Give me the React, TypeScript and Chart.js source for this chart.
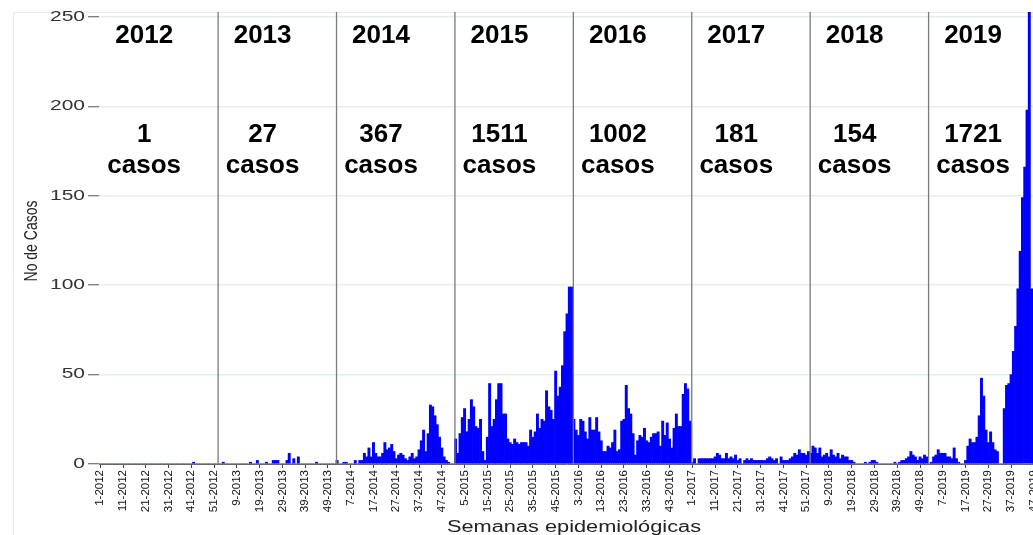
import React, { useEffect, useRef } from "react";
import { Chart, registerables } from "chart.js";

Chart.register(...registerables);

const years = [2012, 2013, 2014, 2015, 2016, 2017, 2018, 2019];
const yearTotals = [1, 27, 367, 1511, 1002, 181, 154, 1721];
const casesWord = "casos";
const xTitle = "Semanas epidemiológicas";
const yTitle = "No de Casos";
const yTickValues = [0, 50, 100, 150, 200, 250];
const yMax = 252.8;
const labelEvery = 10;

const cases2012 = [0,0,0,0,0,0,0,0,0,0, 0,0,0,0,0,0,0,0,0,0, 0,0,0,0,0,0,0,0,0,0, 0,0,0,0,0,0,0,0,0,0, 0,1,0,0,0,0,0,0,0,0, 0,0];
const cases2013 = [0,0,1,0,0,0,0,0,0,0, 0,0,0,0,1,0,0,2,0,0, 0,1,0,0,2,2,2,0,0,0, 2,6,0,3,0,4,0,0,0,0, 0,0,0,1,0,0,0,0,0,0, 0,0];
const cases2014 = [2,0,0,1,1,0,0,0,2,0, 2,2,6,4,9,4,12,6,4,4, 6,12,8,9,11,7,3,5,6,5, 3,2,4,6,3,4,8,13,19,7, 17,33,32,27,22,15,9,4,2,1, 0,0];
const cases2015 = [14,6,17,26,31,18,25,36,32,21, 20,25,7,2,15,45,21,25,36,45, 45,28,28,14,12,11,14,12,11,12, 12,12,10,19,15,18,28,20,25,24, 41,32,30,25,52,38,43,55,74,84, 99,99];
const cases2016 = [25,19,16,25,24,18,14,26,19,19, 26,18,13,7,7,10,9,12,19,7, 8,24,25,44,31,28,17,5,13,16, 15,20,13,12,15,17,17,18,10,24, 16,23,14,9,20,28,21,21,39,45, 42,24];
const cases2017 = [1,3,0,3,3,3,3,3,3,3, 4,6,5,3,3,6,3,4,3,5, 2,3,0,2,3,2,3,2,2,2, 2,2,2,3,4,3,2,3,0,4, 2,2,2,3,4,6,5,8,6,6, 5,7];
const cases2018 = [6,10,9,6,9,4,5,6,4,8, 5,4,6,3,5,4,4,2,2,1, 0,0,0,0,1,0,1,2,2,1, 0,0,0,0,0,0,0,1,0,1, 2,2,3,4,7,5,4,2,4,3, 5,4];
const cases2019 = [0,1,4,5,8,6,6,6,4,4, 3,9,3,1,0,0,2,10,14,12, 12,15,27,48,38,19,12,18,12,8, 7,0,0,31,44,45,50,63,77,98, 119,149,166,198,262,98,6];

const weeklyByYear = [cases2012, cases2013, cases2014, cases2015, cases2016, cases2017, cases2018, cases2019];

const categories: string[] = [];
const values: number[] = [];
weeklyByYear.forEach((arr, k) => {
  arr.forEach((v, w) => {
    categories.push(`${w + 1}-${years[k]}`);
    values.push(v);
  });
});

const FONT = '"Liberation Sans", Arial, sans-serif';

const decor = {
  id: "decor",
  beforeDraw(chart: any) {
    const ctx = chart.ctx;
    ctx.save();
    ctx.fillStyle = "#ffffff";
    ctx.fillRect(0, 0, chart.width, chart.height);
    ctx.strokeStyle = "#e4ebee";
    ctx.lineWidth = 1;
    ctx.beginPath();
    ctx.moveTo(13.5, chart.height);
    ctx.lineTo(13.5, 12.5);
    ctx.lineTo(chart.width, 12.5);
    ctx.stroke();
    ctx.restore();
  },
  afterDatasetsDraw(chart: any) {
    const ctx = chart.ctx;
    const xs = chart.scales.x;
    const ys = chart.scales.y;
    const area = chart.chartArea;
    const step = xs.getPixelForValue(1) - xs.getPixelForValue(0);
    ctx.save();
    let start = 0;
    weeklyByYear.forEach((arr, k) => {
      const end = start + arr.length - 1;
      if (k < weeklyByYear.length - 1) {
        const sx = xs.getPixelForValue(end) + step / 2 + 0.6;
        ctx.strokeStyle = "#7a7a7a";
        ctx.lineWidth = 1.3;
        ctx.beginPath();
        ctx.moveTo(sx, area.top);
        ctx.lineTo(sx, area.bottom);
        ctx.stroke();
      }
      const cx = xs.getPixelForValue(start + 19.3);
      ctx.fillStyle = "#000";
      ctx.font = `bold 26px ${FONT}`;
      ctx.textAlign = "center";
      ctx.textBaseline = "alphabetic";
      ctx.fillText(String(years[k]), cx, 42.5);
      ctx.fillText(String(yearTotals[k]), cx, 142);
      ctx.fillText(casesWord, cx, 173);
      start = end + 1;
    });

    ctx.fillStyle = "#333";
    ctx.font = `14px ${FONT}`;
    ctx.textAlign = "right";
    ctx.textBaseline = "middle";
    yTickValues.forEach((v) => {
      const yy = ys.getPixelForValue(v);
      ctx.save();
      ctx.translate(85, yy);
      ctx.scale(1.5, 1);
      ctx.fillText(String(v), 0, 0);
      ctx.restore();
    });

    ctx.save();
    ctx.fillStyle = "#222";
    ctx.font = `16px ${FONT}`;
    ctx.textAlign = "center";
    ctx.textBaseline = "alphabetic";
    ctx.translate(574, 532);
    ctx.scale(1.36, 1);
    ctx.fillText(xTitle, 0, 0);
    ctx.restore();

    ctx.save();
    ctx.fillStyle = "#222";
    ctx.font = `14px ${FONT}`;
    ctx.textAlign = "center";
    ctx.textBaseline = "alphabetic";
    ctx.translate(37, 241);
    ctx.scale(1.3, 1);
    ctx.rotate(-Math.PI / 2);
    ctx.fillText(yTitle, 0, 0);
    ctx.restore();

    ctx.restore();
  },
};

export default function App() {
  const canvasRef = useRef<HTMLCanvasElement | null>(null);

  useEffect(() => {
    if (!canvasRef.current) return;
    const chart = new Chart(canvasRef.current, {
      type: "bar",
      data: {
        labels: categories,
        datasets: [
          {
            data: values,
            backgroundColor: "#0000ff",
            borderWidth: 0,
            barPercentage: 1,
            categoryPercentage: 1,
          },
        ],
      },
      options: {
        responsive: false,
        animation: false,
        events: [],
        layout: { padding: { left: 0, right: 15, top: 12, bottom: 0 } },
        plugins: {
          legend: { display: false },
          tooltip: { enabled: false },
          title: { display: false },
        },
        scales: {
          x: {
            type: "category",
            offset: true,
            grid: {
              offset: false,
              drawOnChartArea: false,
              drawTicks: true,
              tickLength: 4,
              tickColor: "#444",
              tickWidth: 1,
            },
            border: { display: true, color: "#666", width: 1 },
            ticks: {
              autoSkip: false,
              minRotation: 90,
              maxRotation: 90,
              padding: 2,
              color: "#111",
              font: { family: FONT, size: 11.5 },
            },
            afterBuildTicks: (scale: any) => {
              scale.ticks = scale.ticks.filter((t: any) => t.value % labelEvery === 0);
            },
            afterFit: (scale: any) => {
              scale.height = 71;
            },
          },
          y: {
            min: 0,
            max: yMax,
            ticks: { display: false, stepSize: 50 },
            grid: {
              color: "#e6edf0",
              lineWidth: 1.5,
              drawTicks: true,
              tickLength: 11,
              tickColor: "#555",
              tickWidth: 1,
            },
            border: { display: false },
            afterBuildTicks: (scale: any) => {
              scale.ticks = yTickValues.map((v) => ({ value: v }));
            },
            afterFit: (scale: any) => {
              scale.width = 99.1;
            },
          },
        },
      },
      plugins: [decor],
    });
    return () => chart.destroy();
  }, []);

  return (
    <div
      style={{
        position: "fixed",
        left: 0,
        top: 0,
        width: 1033,
        height: 535,
        overflow: "hidden",
        background: "#fff",
      }}
    >
      <canvas ref={canvasRef} width={1050} height={535} style={{ display: "block" }} />
    </div>
  );
}
